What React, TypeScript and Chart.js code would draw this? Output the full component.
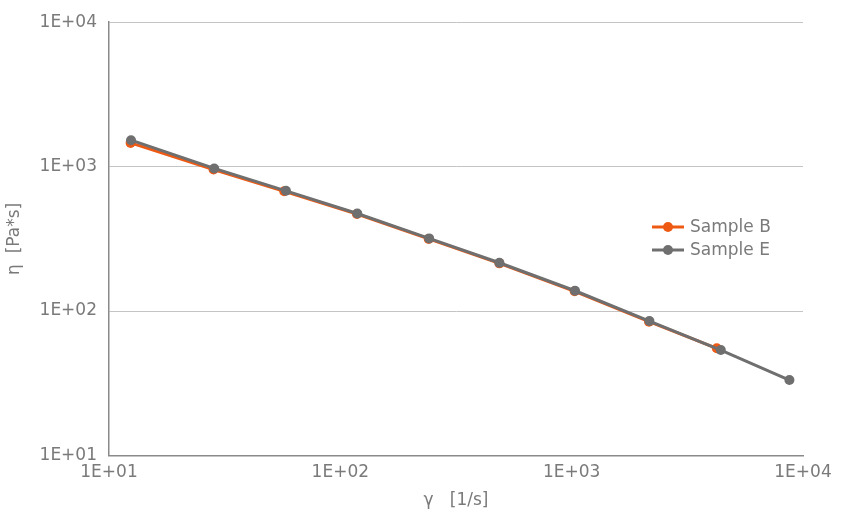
import React, { useEffect, useRef } from "react";
import { Chart, registerables } from "chart.js";

Chart.register(...registerables);

const seriesNames = ["Sample B", "Sample E"];
const shearRateB = [12.4, 28.3, 57.2, 118, 241, 487, 1030, 2160, 4240];
const viscosityB = [1460, 955, 675, 470, 316, 214, 137, 84.5, 55.2];
const shearRateE = [12.45, 28.5, 58.2, 118.4, 242, 487, 1034, 2168, 4413, 8735];
const viscosityE = [1525, 972, 680, 474, 318.6, 216, 138.2, 85.3, 53.7, 33.3];
const tickValues = [10, 100, 1000, 10000];
const tickLabels = ["1E+01", "1E+02", "1E+03", "1E+04"];
const xTitle = "γ   [1/s]";
const yTitle = "η  [Pa*s]";

const ORANGE = "#EE5A14";
const GREY = "#6F6F6F";
const TEXT = "#7A7A7A";
const FONT = "DejaVu Sans";

const legendPlugin = {
  id: "customLegend",
  afterDraw(chart: any) {
    const ctx = chart.ctx;
    const area = chart.chartArea;
    const x0 = area.right - 151;
    const y0 = 227;
    const gap = 23;
    const order = [0, 1];
    ctx.save();
    order.forEach((di, i) => {
      const ds = chart.data.datasets[di];
      const y = y0 + i * gap;
      ctx.strokeStyle = ds.borderColor;
      ctx.lineWidth = 3;
      ctx.beginPath();
      ctx.moveTo(x0, y);
      ctx.lineTo(x0 + 32, y);
      ctx.stroke();
      ctx.fillStyle = ds.backgroundColor;
      ctx.beginPath();
      ctx.arc(x0 + 16, y, 5, 0, Math.PI * 2);
      ctx.fill();
      ctx.fillStyle = TEXT;
      ctx.font = `17px "${FONT}"`;
      ctx.textAlign = "left";
      ctx.textBaseline = "middle";
      ctx.fillText(ds.label, x0 + 38, y + 1);
    });
    ctx.restore();
  },
};

export default function App() {
  const ref = useRef<HTMLCanvasElement>(null);
  useEffect(() => {
    if (!ref.current) return;
    const chart = new Chart(ref.current, {
      type: "line",
      data: {
        datasets: [
          {
            label: seriesNames[0],
            data: shearRateB.map((x, i) => ({ x, y: viscosityB[i] })),
            borderColor: ORANGE,
            backgroundColor: ORANGE,
            borderWidth: 3,
            pointRadius: 5,
            pointBorderWidth: 0,
            pointHoverRadius: 5,
            order: 2,
          },
          {
            label: seriesNames[1],
            data: shearRateE.map((x, i) => ({ x, y: viscosityE[i] })),
            borderColor: GREY,
            backgroundColor: GREY,
            borderWidth: 3,
            pointRadius: 5,
            pointBorderWidth: 0,
            pointHoverRadius: 5,
            order: 1,
          },
        ],
      },
      options: {
        responsive: false,
        animation: false,
        layout: { padding: { top: 22, right: 38, left: 0, bottom: 0 } },
        plugins: {
          legend: { display: false },
          tooltip: { enabled: false },
        },
        scales: {
          x: {
            type: "logarithmic",
            min: 10,
            max: 10000,
            afterBuildTicks: (s: any) => {
              s.ticks = tickValues.map((v) => ({ value: v }));
            },
            afterFit: (s: any) => {
              s.height = 59.5;
            },
            grid: { display: false, drawTicks: false },
            border: { display: true, color: "#8A8A8A", width: 1.5 },
            ticks: {
              color: TEXT,
              font: { family: FONT, size: 17 },
              padding: 7,
              maxRotation: 0,
              autoSkip: false,
              callback: (v: any) => tickLabels[tickValues.indexOf(Number(v))] ?? "",
            },
            title: {
              display: true,
              text: xTitle,
              color: TEXT,
              font: { family: FONT, size: 17 },
              padding: { top: 0, bottom: 4 },
            },
          },
          y: {
            type: "logarithmic",
            min: 10,
            max: 10000,
            afterBuildTicks: (s: any) => {
              s.ticks = tickValues.map((v) => ({ value: v }));
            },
            afterFit: (s: any) => {
              s.width = 109;
            },
            grid: { color: "#C4C4C4", lineWidth: 1, drawTicks: false },
            border: { display: true, color: "#8A8A8A", width: 1.5 },
            ticks: {
              color: TEXT,
              font: { family: FONT, size: 17 },
              padding: 12,
              autoSkip: false,
              callback: (v: any) => tickLabels[tickValues.indexOf(Number(v))] ?? "",
            },
            title: {
              display: true,
              text: yTitle,
              color: TEXT,
              font: { family: FONT, size: 17 },
              padding: { top: 4, bottom: 0 },
            },
          },
        },
      },
      plugins: [legendPlugin],
    });
    return () => chart.destroy();
  }, []);
  return (
    <div style={{ position: "absolute", left: 0, top: 0, width: 841, height: 515, background: "#fff" }}>
      <canvas ref={ref} width={841} height={515} />
    </div>
  );
}
